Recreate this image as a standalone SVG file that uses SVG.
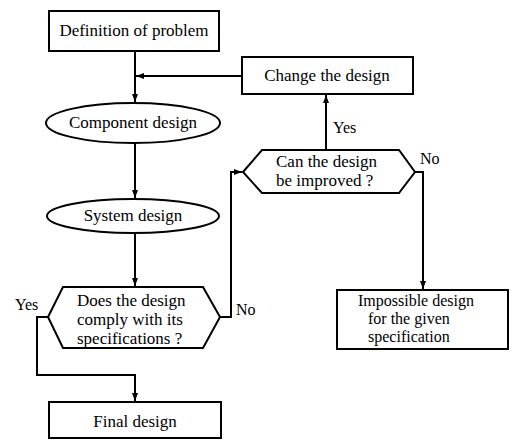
<svg xmlns="http://www.w3.org/2000/svg" width="516" height="440" viewBox="0 0 516 440">
<style>
.s{fill:#fff;stroke:#000;stroke-width:2}
.c{fill:none;stroke:#000;stroke-width:2}
.t{font-family:'Liberation Serif','DejaVu Serif','Times New Roman',serif;font-size:17px;fill:#000}
.l{font-size:16px}
.m{text-anchor:middle}
</style>
<defs>
<marker id="a" markerUnits="userSpaceOnUse" markerWidth="9" markerHeight="8" refX="8" refY="4" orient="auto">
<path d="M0,1 L8,4 L0,7 z" fill="#000"/>
</marker>
</defs>
<rect width="516" height="440" fill="#fff"/>
<g id="connectors">
<path class="c" d="M135,51 V102" marker-end="url(#a)"/>
<path class="c" d="M242,76 H136" marker-end="url(#a)"/>
<path class="c" d="M135,143 V198" marker-end="url(#a)"/>
<path class="c" d="M135,233 V286" marker-end="url(#a)"/>
<path class="c" d="M48,317 H37 V375 H135 V401" marker-end="url(#a)"/>
<path class="c" d="M220,317 H231 V172 H242" marker-end="url(#a)"/>
<path class="c" d="M326,150 V95" marker-end="url(#a)"/>
<path class="c" d="M415,172 H423 V289" marker-end="url(#a)"/>
</g>
<g class="t">
<g id="definition">
<rect class="s" x="49" y="11" width="170" height="40"/>
<text class="m" x="134" y="36">Definition of problem</text>
</g>
<g id="change">
<rect class="s" x="242" y="57" width="171" height="37"/>
<text class="m" x="327" y="81">Change the design</text>
</g>
<g id="component">
<ellipse class="s" cx="133" cy="123" rx="87" ry="20"/>
<text class="m" x="133" y="128">Component design</text>
</g>
<g id="system">
<ellipse class="s" cx="133" cy="216" rx="86" ry="17"/>
<text class="m" x="133" y="221">System design</text>
</g>
<g id="comply">
<polygon class="s" points="48,317 63,287 203,287 220,317 203,348 63,348"/>
<text x="77" y="306">Does the design</text>
<text x="77" y="325">comply with its</text>
<text x="77" y="344">specifications ?</text>
</g>
<g id="improve">
<polygon class="s" points="243,172 262,150 399,150 415,172 399,193 262,193"/>
<text x="276" y="167">Can the design</text>
<text x="276" y="186">be improved ?</text>
</g>
<g id="final">
<rect class="s" x="49" y="402" width="172" height="36"/>
<text class="m" x="135" y="427">Final design</text>
</g>
<g id="impossible" class="l">
<rect class="s" x="337" y="290" width="171" height="59"/>
<text x="358" y="306">Impossible design</text>
<text x="368" y="324">for the given</text>
<text x="368" y="342">specification</text>
</g>
<g id="labels" class="l">
<text x="15" y="310">Yes</text>
<text x="236" y="315">No</text>
<text x="333" y="133">Yes</text>
<text x="420" y="164">No</text>
</g>
</g>
</svg>
